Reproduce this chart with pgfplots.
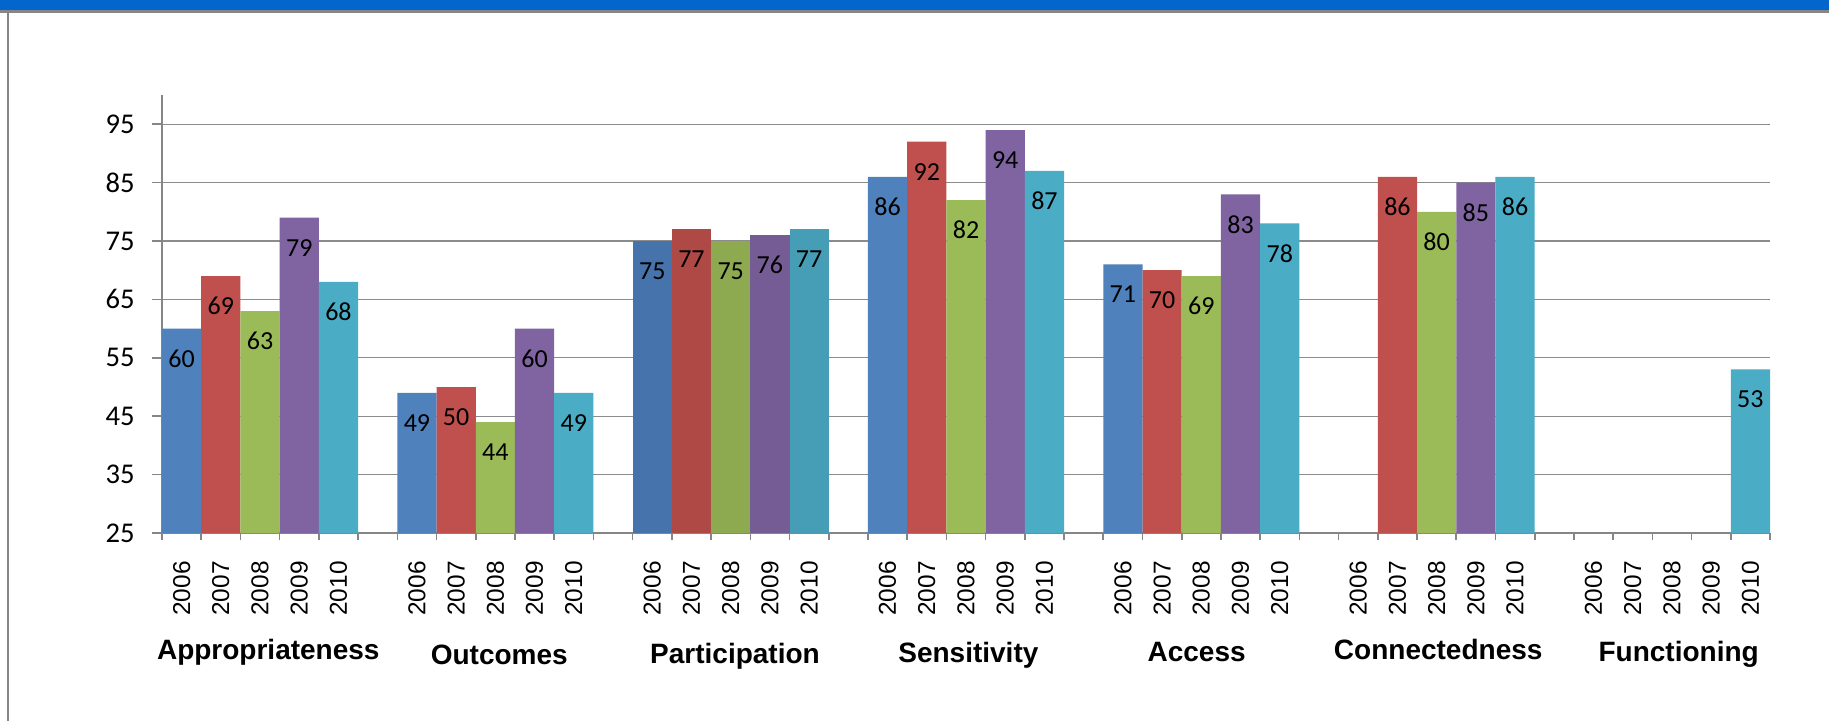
\documentclass[border=0pt]{standalone}
\usepackage{fontspec}
\setmainfont{Carlito}
\newfontfamily\arialfont{Liberation Sans}
\usepackage{pgfplots}
\pgfplotsset{compat=1.18}

% Series colours (Office palette)
\definecolor{cBlue}{HTML}{4F81BD}
\definecolor{cRed}{HTML}{C0504D}
\definecolor{cGreen}{HTML}{9BBB59}
\definecolor{cPurple}{HTML}{8064A2}
\definecolor{cAqua}{HTML}{4BACC6}
% slightly darker shades used for the Participation group
\definecolor{dBlue}{HTML}{4773AC}
\definecolor{dRed}{HTML}{AF4945}
\definecolor{dGreen}{HTML}{8EAA51}
\definecolor{dPurple}{HTML}{765C95}
\definecolor{dAqua}{HTML}{459EB5}
\definecolor{axisgray}{HTML}{868686}
\definecolor{gridgray}{HTML}{8C8C8C}
\definecolor{bandblue}{HTML}{0366CC}

\begin{document}
\begin{tikzpicture}
\useasboundingbox (-81pt,-93.5pt) rectangle (833.5pt,266.5pt);
\fill[white] (-81pt,-93.5pt) rectangle (833.5pt,266.5pt);
% header band and frame
\fill[bandblue] (-81pt,261.5pt) rectangle (833.5pt,266.5pt);
\draw[axisgray, line width=1.3pt] (-81pt,260.8pt) -- (833.5pt,260.8pt);
\draw[axisgray, line width=0.9pt] (-76.9pt,-100pt) -- (-76.9pt,261.5pt);

\begin{axis}[
  at={(0,0)}, anchor=south west,
  scale only axis, width=804pt, height=219pt,
  xmin=-0.5, xmax=40.5, ymin=25, ymax=100,
  clip mode=individual,
  axis x line*=bottom, axis y line*=left,
  every outer x axis line/.append style={-},
  every outer y axis line/.append style={-},
  axis line style={draw=axisgray, line width=0.8pt, -},
  ymajorgrids,
  grid style={draw=gridgray, line width=0.65pt},
  ytick={25,35,...,95},
  tick align=outside,
  major tick length=5pt, minor tick length=3.4pt,
  ytick style={draw=axisgray, line width=0.8pt},
  major x tick style={draw=none},
  minor x tick style={draw=axisgray, line width=0.8pt},
  xtick={0,1,2,3,4, 6,7,8,9,10, 12,13,14,15,16, 18,19,20,21,22,
         24,25,26,27,28, 30,31,32,33,34, 36,37,38,39,40},
  xticklabels={2006,2007,2008,2009,2010, 2006,2007,2008,2009,2010,
               2006,2007,2008,2009,2010, 2006,2007,2008,2009,2010,
               2006,2007,2008,2009,2010, 2006,2007,2008,2009,2010,
               2006,2007,2008,2009,2010},
  minor xtick={-0.5,0.5,...,40.5},
  % shift is given in the rotated frame: local x points upwards
  xticklabel style={rotate=90, anchor=east, inner sep=0pt, xshift=-9pt,
                    font=\arialfont\fontsize{12.2}{14}\selectfont},
  yticklabel style={font=\fontsize{14.3}{16}\selectfont, inner sep=0pt, xshift=-8.5pt},
  /pgf/number format/assume math mode=true,
  ybar, bar width=1,
  nodes near coords,
  every node near coord/.append style={font=\fontsize{13}{15}\selectfont,
                                       anchor=center, yshift=-15pt, text=black},
]
% 2006
\addplot[bar shift=0pt, fill=cBlue, draw=none]
  coordinates {(0,60) (6,49) (18,86) (24,71)};
\addplot[bar shift=0pt, fill=dBlue, draw=none]
  coordinates {(12,75)};
% 2007
\addplot[bar shift=0pt, fill=cRed, draw=none]
  coordinates {(1,69) (7,50) (19,92) (25,70) (31,86)};
\addplot[bar shift=0pt, fill=dRed, draw=none]
  coordinates {(13,77)};
% 2008
\addplot[bar shift=0pt, fill=cGreen, draw=none]
  coordinates {(2,63) (8,44) (20,82) (26,69) (32,80)};
\addplot[bar shift=0pt, fill=dGreen, draw=none]
  coordinates {(14,75)};
% 2009
\addplot[bar shift=0pt, fill=cPurple, draw=none]
  coordinates {(3,79) (9,60) (21,94) (27,83) (33,85)};
\addplot[bar shift=0pt, fill=dPurple, draw=none]
  coordinates {(15,76)};
% 2010
\addplot[bar shift=0pt, fill=cAqua, draw=none]
  coordinates {(4,68) (10,49) (22,87) (28,78) (34,86) (40,53)};
\addplot[bar shift=0pt, fill=dAqua, draw=none]
  coordinates {(16,77)};

% group names under the year labels
\begin{scope}[font=\arialfont\bfseries\fontsize{14}{16}\selectfont]
\node at (axis cs:2.21,25)  [yshift=-59.5pt]  {Appropriateness};
\node at (axis cs:8.10,25)  [yshift=-60.7pt]  {Outcomes};
\node at (axis cs:14.11,25) [yshift=-61.85pt] {Participation};
\node at (axis cs:20.06,25) [yshift=-61.25pt] {Sensitivity};
\node at (axis cs:25.88,25) [yshift=-59.5pt]  {Access};
\node at (axis cs:32.04,25) [yshift=-58.35pt] {Connectedness};
\node at (axis cs:38.17,25) [yshift=-60.7pt]  {Functioning};
\end{scope}
\end{axis}
\end{tikzpicture}
\end{document}
